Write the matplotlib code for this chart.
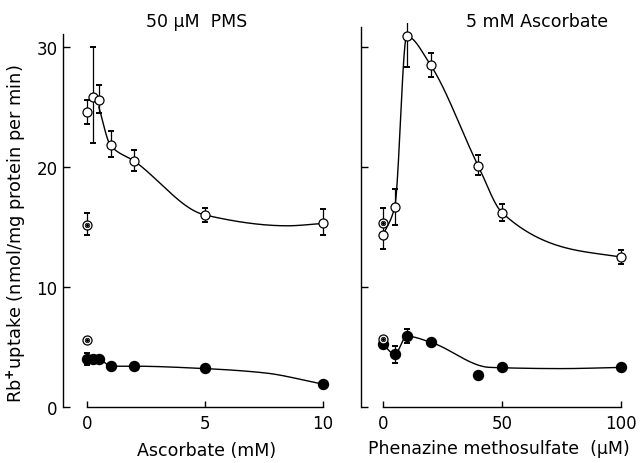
import numpy as np
import matplotlib.pyplot as plt

plt.rcParams['font.family'] = ['DejaVu Sans']

# --- left panel: 50 uM PMS, ascorbate varied (mM)
asc_x = [0, 0.25, 0.5, 1, 2, 5, 10]
asc_open = [24.6, 25.8, 25.6, 21.8, 20.5, 16.0, 15.3]
asc_open_lo = [1.0, 3.8, 1.1, 1.0, 0.8, 0.6, 1.0]
asc_open_hi = [1.0, 4.2, 1.2, 1.2, 0.9, 0.6, 1.2]
asc_filled = [4.0, 4.0, 4.0, 3.4, 3.4, 3.25, 1.9]
asc_filled_err = [0.5, 0, 0, 0, 0, 0, 0]
asc_dot_x = [0, 0]
asc_dot = [15.2, 5.6]
asc_dot_lo = [0.9, 0]
asc_dot_hi = [1.0, 0]
# hand-drawn fit lines
asc_open_fit_x = [0.5, 1, 2, 5, 8.5, 10]
asc_open_fit_y = [25.0, 21.8, 20.5, 16.0, 15.1, 15.3]
asc_filled_fit_x = [0, 0.5, 1, 2, 5, 7.5, 10]
asc_filled_fit_y = [4.0, 4.0, 3.4, 3.4, 3.2, 2.85, 1.9]

# --- right panel: 5 mM ascorbate, PMS varied (uM)
pms_x = [0, 5, 10, 20, 40, 50, 100]
pms_open = [14.3, 16.7, 30.9, 28.5, 20.1, 16.2, 12.5]
pms_open_lo = [1.1, 1.5, 2.6, 1.0, 0.8, 0.7, 0.6]
pms_open_hi = [1.1, 1.5, 2.5, 1.0, 0.9, 0.7, 0.6]
pms_filled = [5.25, 4.4, 5.9, 5.4, 2.7, 3.3, 3.3]
pms_filled_err = [0, 0.7, 0.6, 0, 0, 0, 0]
pms_dot_x = [0, 0]
pms_dot = [15.3, 5.7]
pms_dot_lo = [0, 0]
pms_dot_hi = [1.3, 0]
pms_open_fit_x = [0, 5, 10, 20, 40, 50, 78, 100]
pms_open_fit_y = [14.3, 16.7, 30.9, 28.5, 20.1, 16.2, 13.2, 12.5]
pms_filled_fit_x = [0, 5, 10, 20, 45, 75, 100]
pms_filled_fit_y = [5.25, 4.4, 5.9, 5.4, 3.3, 3.2, 3.3]


def smooth(xs, ys, n=40):
    # monotone cubic (pchip-like) through the fit knots
    x = np.asarray(xs, float)
    y = np.asarray(ys, float)
    h = np.diff(x)
    d = np.diff(y) / h
    m = np.zeros_like(y)
    m[0], m[-1] = d[0], d[-1]
    for i in range(1, len(y) - 1):
        if d[i - 1] * d[i] > 0:
            w1 = 2 * h[i] + h[i - 1]
            w2 = h[i] + 2 * h[i - 1]
            m[i] = (w1 + w2) / (w1 / d[i - 1] + w2 / d[i])
    px, py = [], []
    for i in range(len(h)):
        t = np.linspace(0, 1, n)
        h00 = 2 * t ** 3 - 3 * t ** 2 + 1
        h10 = t ** 3 - 2 * t ** 2 + t
        h01 = -2 * t ** 3 + 3 * t ** 2
        h11 = t ** 3 - t ** 2
        px.append(x[i] + t * h[i])
        py.append(h00 * y[i] + h10 * h[i] * m[i] + h01 * y[i + 1] + h11 * h[i] * m[i + 1])
    return np.concatenate(px), np.concatenate(py)


fig = plt.figure(figsize=(6.4, 4.64), dpi=100)
ax1 = fig.add_axes([63 / 640, 56 / 464, 272 / 640, 384 / 464])
ax2 = fig.add_axes([361 / 640, 56 / 464, 274 / 640, 384 / 464])

ebkw = dict(fmt='none', ecolor='black', elinewidth=0.9, capsize=2.5, capthick=1.4, zorder=2)


def panel(ax, x, yo, lo, hi, yf, ferr, dx, dy, dlo, dhi, ofx, ofy, ffx, ffy):
    sx, sy = smooth(ofx, ofy)
    ax.plot(sx, sy, color='black', lw=1.0, zorder=1)
    sx, sy = smooth(ffx, ffy)
    ax.plot(sx, sy, color='black', lw=1.0, zorder=1)
    ax.errorbar(x, yo, yerr=[lo, hi], **ebkw)
    ax.errorbar(x, yf, yerr=[ferr, ferr], **ebkw)
    ax.errorbar(dx, dy, yerr=[dlo, dhi], **ebkw)
    ax.plot(x, yo, 'o', ms=6.5, mfc='white', mec='black', mew=0.9, zorder=3)
    ax.plot(x, yf, 'o', ms=7.2, mfc='black', mec='black', zorder=3)
    ax.plot(dx, dy, 'o', ms=6.5, mfc='white', mec='black', mew=0.9, zorder=3)
    ax.plot(dx, dy, 'o', ms=3.2, mfc='white', mec='black', mew=0.6, zorder=4)
    ax.plot(dx, dy, 'o', ms=1.3, mfc='black', mec='black', zorder=5)
    ax.set_ylim(0, 32)
    ax.spines['top'].set_visible(False)
    ax.spines['right'].set_visible(False)
    ax.spines['left'].set_linewidth(1.0)
    ax.spines['bottom'].set_linewidth(1.0)
    ax.set_yticks([0, 10, 20, 30])
    ax.tick_params(axis='y', direction='in', length=5, width=1, labelsize=12, pad=4)
    ax.tick_params(axis='x', direction='in', length=4, width=1, labelsize=12, pad=5)


panel(ax1, asc_x, asc_open, asc_open_lo, asc_open_hi, asc_filled, asc_filled_err,
      asc_dot_x, asc_dot, asc_dot_lo, asc_dot_hi,
      asc_open_fit_x, asc_open_fit_y, asc_filled_fit_x, asc_filled_fit_y)
panel(ax2, pms_x, pms_open, pms_open_lo, pms_open_hi, pms_filled, pms_filled_err,
      pms_dot_x, pms_dot, pms_dot_lo, pms_dot_hi,
      pms_open_fit_x, pms_open_fit_y, pms_filled_fit_x, pms_filled_fit_y)

ax1.set_xlim(-1.017, 10.51)
ax1.set_xticks([0, 5, 10])
ax1.spines['bottom'].set_bounds(0, 10)
ax1.spines['left'].set_bounds(0, 31.1)

ax2.set_xlim(-9.17, 105.8)
ax2.set_xticks([0, 50, 100])
ax2.spines['bottom'].set_bounds(0, 100)
ax2.spines['left'].set_bounds(0, 31.7)
ax2.set_yticklabels([])

fig.text(16 / 640, 1 - 234 / 464, 'Rb$^{\\mathbf{+}}$uptake (nmol/mg protein per min)',
         fontsize=12.8, rotation=90, ha='center', va='center')
fig.text(197 / 640, 1 - 22 / 464, '50 µM  PMS', fontsize=12.5, ha='center', va='center')
fig.text(537 / 640, 1 - 22 / 464, '5 mM Ascorbate', fontsize=12.5, ha='center', va='center')
fig.text(207 / 640, 1 - 451 / 464, 'Ascorbate (mM)', fontsize=12.5, ha='center', va='center')
fig.text(499 / 640, 1 - 449 / 464, 'Phenazine methosulfate  (µM)', fontsize=12.5,
         ha='center', va='center')

fig.savefig('out.png', dpi=100)
